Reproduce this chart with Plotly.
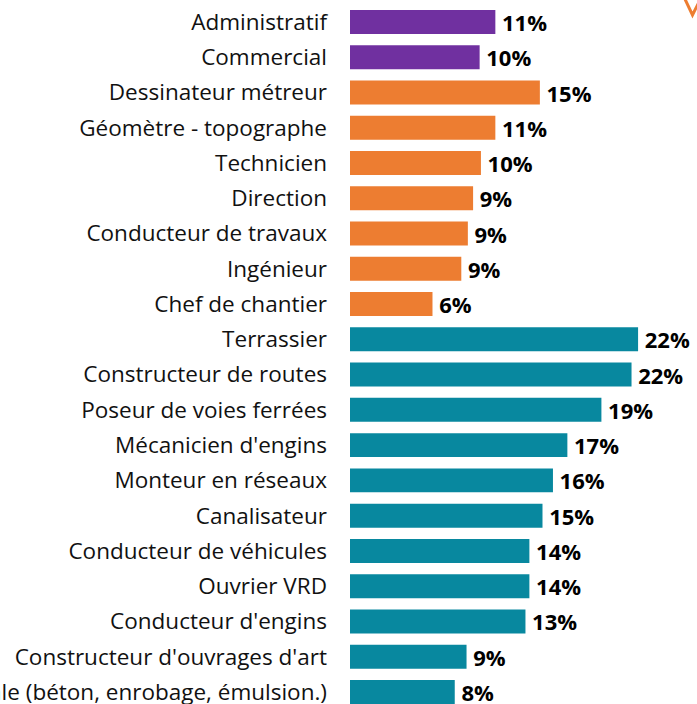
import plotly.graph_objects as go

categories = [
    "Administratif", "Commercial", "Dessinateur métreur", "Géomètre - topographe",
    "Technicien", "Direction", "Conducteur de travaux", "Ingénieur", "Chef de chantier",
    "Terrassier", "Constructeur de routes", "Poseur de voies ferrées", "Mécanicien d'engins",
    "Monteur en réseaux", "Canalisateur", "Conducteur de véhicules", "Ouvrier VRD",
    "Conducteur d'engins", "Constructeur d'ouvrages d'art",
    "Pilote de centrale (béton, enrobage, émulsion.)",
]
values = [11.1, 9.9, 14.5, 11.1, 10.0, 9.4, 9.0, 8.5, 6.3,
          22.0, 21.5, 19.2, 16.6, 15.5, 14.7, 13.7, 13.7, 13.4, 8.9, 8.0]
value_labels = ["11%", "10%", "15%", "11%", "10%", "9%", "9%", "9%", "6%",
                "22%", "22%", "19%", "17%", "16%", "15%", "14%", "14%", "13%", "9%", "8%"]
groups = ["admin"] * 2 + ["etam"] * 7 + ["ouvrier"] * 11
group_colors = {"admin": "#7030A0", "etam": "#ED7D31", "ouvrier": "#08889F"}

fig = go.Figure(go.Bar(
    x=values,
    y=list(range(len(categories))),
    orientation="h",
    marker=dict(color=[group_colors[g] for g in groups], line=dict(width=0)),
    text=["\u2009" + t for t in value_labels],
    textposition="outside",
    constraintext="none",
    textfont=dict(family="Open Sans", size=22, color="black", weight="bold"),
    cliponaxis=False,
    width=0.68,
    hoverinfo="skip",
))

fig.update_layout(
    width=697, height=704,
    margin=dict(l=350, r=0, t=0, b=0),
    paper_bgcolor="white", plot_bgcolor="white",
    showlegend=False,
    xaxis=dict(range=[0, 26.5], visible=False),
    yaxis=dict(
        range=[19.342, -0.624],
        tickmode="array",
        tickvals=list(range(len(categories))),
        ticktext=categories,
        showgrid=False, zeroline=False, showline=False,
        ticks="", ticklabelstandoff=22,
        ticklabeloverflow="allow",
        tickfont=dict(family="Open Sans", size=22.5, color="#111111"),
        automargin=False,
    ),
    shapes=[dict(type="path", xref="paper", yref="paper",
                 path="M 0.9627 1.004 L 0.987 0.9787 L 1.0043 0.9957",
                 line=dict(color="#ED7D31", width=3))],
)

fig.write_html("out.html", config={"displayModeBar": False},
               post_script="document.body.style.margin='0';")
